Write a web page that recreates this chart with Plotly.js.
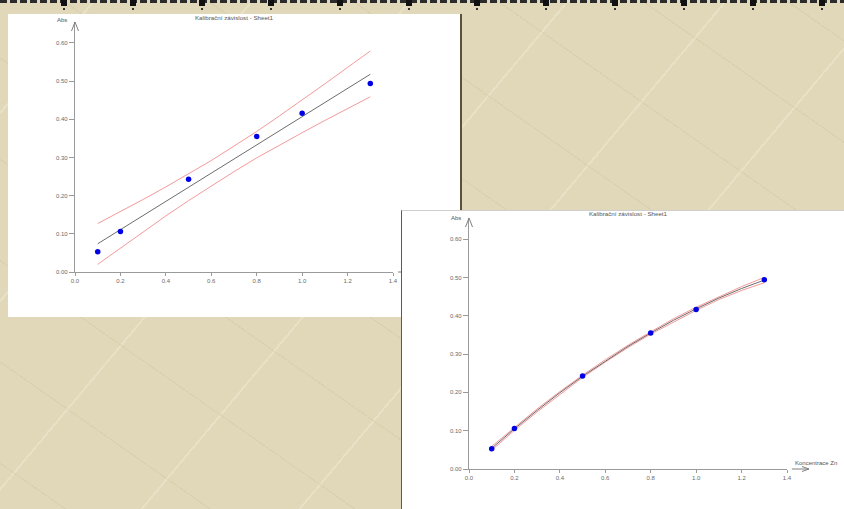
<!DOCTYPE html>
<html>
<head>
<meta charset="utf-8">
<script src="https://cdn.plot.ly/plotly-3.0.1.min.js"></script>
<style>
html,body{margin:0;padding:0;width:844px;height:509px;overflow:hidden;}
body{background-color:#e0d8b8;background-image:
  repeating-linear-gradient(35deg,rgba(255,255,255,0) 0 37px,rgba(190,180,140,0.25) 37px 38px,rgba(255,255,255,0) 38px 83px),
  repeating-linear-gradient(-50deg,rgba(255,255,255,0) 0 53px,rgba(245,240,220,0.35) 53px 55px,rgba(255,255,255,0) 55px 121px);}
#border{position:absolute;left:0;top:0;width:844px;height:3px;background:repeating-linear-gradient(90deg,#2b2b2b 0 7px,rgba(0,0,0,0) 7px 10px);}
.pin{position:absolute;top:0;width:6px;height:6px;background:#111;}
.pin:after{content:'';position:absolute;left:2px;top:8px;width:2px;height:2px;background:#333;}
#c1{position:absolute;left:8px;top:14px;width:452px;height:302px;background:#fff;border-right:2px solid #5a5238;border-bottom:1px solid #b9b6a8;}
#c2{position:absolute;left:401px;top:210px;width:452px;height:303px;background:#fff;border-left:1px solid #5a5a5a;border-top:1px solid #cfcfcf;}
</style>
</head>
<body>
<div id="border"></div>
<div id="c1"></div>
<div id="c2"></div>
<script>
// ---- data ----
const conc = [0.1, 0.2, 0.5, 0.8, 1.0, 1.3];
const absorbance = [0.053, 0.106, 0.243, 0.355, 0.416, 0.494];

const bandX = [0.1, 0.2, 0.3, 0.4, 0.5, 0.6, 0.7, 0.8, 0.9, 1.0, 1.1, 1.2, 1.3];
// linear calibration (top-left chart)
const linFit   = [0.074, 0.111, 0.148, 0.185, 0.222, 0.259, 0.296, 0.334, 0.371, 0.408, 0.445, 0.482, 0.518];
const linUpper = [0.127, 0.158, 0.190, 0.223, 0.257, 0.292, 0.330, 0.368, 0.409, 0.450, 0.493, 0.536, 0.579];
const linLower = [0.020, 0.063, 0.105, 0.147, 0.187, 0.226, 0.263, 0.299, 0.333, 0.365, 0.397, 0.429, 0.459];
// quadratic calibration (bottom-right chart)
const quadFit   = [0.054, 0.105, 0.153, 0.199, 0.242, 0.282, 0.320, 0.355, 0.388, 0.418, 0.446, 0.471, 0.493];
const quadUpper = [0.059, 0.109, 0.157, 0.202, 0.245, 0.285, 0.323, 0.358, 0.392, 0.422, 0.450, 0.476, 0.500];
const quadLower = [0.049, 0.101, 0.149, 0.195, 0.239, 0.279, 0.317, 0.352, 0.384, 0.414, 0.442, 0.466, 0.486];

const xTickVals = [0, 0.2, 0.4, 0.6, 0.8, 1.0, 1.2, 1.4];
const yTickVals = [0, 0.1, 0.2, 0.3, 0.4, 0.5, 0.6];
const chartTitle = 'Kalibrační závislost - Sheet1';
const yLabel = 'Abs';
const xLabel = 'Koncentrace Zn';

// ---- decoration: top dashed border with pins ----
for (let i = 0; i < 12; i++) {
  const p = document.createElement('div');
  p.className = 'pin';
  p.style.left = (61 + i * 68.9) + 'px';
  document.body.appendChild(p);
}

const FONT = 'Liberation Sans, Arial, sans-serif';
const AX = '#9a9a9a';

function traces(fit, up, lo) {
  return [
    {x: bandX, y: up, mode: 'lines', line: {color: '#f39a9a', width: 1}, hoverinfo: 'skip'},
    {x: bandX, y: lo, mode: 'lines', line: {color: '#f39a9a', width: 1}, hoverinfo: 'skip'},
    {x: bandX, y: fit, mode: 'lines', line: {color: '#6c6c6c', width: 1}, hoverinfo: 'skip'},
    {x: conc, y: absorbance, mode: 'markers', marker: {color: '#0000e6', size: 5.5}, hoverinfo: 'skip'}
  ];
}

function layout(t, titleOffset, absShift) {
  return {
    width: 452, height: 303,
    margin: {l: 67, r: 67, t: t, b: 45, pad: 0},
    paper_bgcolor: '#ffffff', plot_bgcolor: '#ffffff',
    showlegend: false,
    font: {family: FONT, size: 6, color: '#6a6a6a'},
    title: {text: chartTitle, font: {family: FONT, size: 6.2, color: '#555'},
            x: 0.5, xref: 'paper', xanchor: 'center', y: 1 - titleOffset / 303, yref: 'container', yanchor: 'middle'},
    xaxis: {range: [0, 1.4], tickvals: xTickVals, tickformat: '.1f', showgrid: false, zeroline: false,
            showline: true, linecolor: AX, linewidth: 1.2, ticks: 'outside', ticklen: 3, tickcolor: AX,
            tickfont: {family: FONT, size: 6, color: '#6a6a6a'}, fixedrange: true},
    yaxis: {range: [0, 0.655], tickvals: yTickVals, tickformat: '.2f', showgrid: false, zeroline: false,
            showline: true, linecolor: AX, linewidth: 1.2, ticks: 'outside', ticklen: 5, tickcolor: AX,
            tickfont: {family: FONT, size: 6, color: '#6a6a6a'}, fixedrange: true},
    shapes: [
      {type: 'path', xref: 'paper', yref: 'paper', xsizemode: 'pixel', ysizemode: 'pixel', xanchor: 0, yanchor: 1,
       path: 'M-3.5,-9L0,0L3.5,-9', line: {color: '#808080', width: 1}},
      {type: 'path', xref: 'paper', yref: 'paper', xsizemode: 'pixel', ysizemode: 'pixel', xanchor: 1, yanchor: 0,
       path: 'M5,0L22,0M15,2.5L22,0L15,-2.5', line: {color: '#808080', width: 1}}
    ],
    annotations: [
      {text: yLabel, x: 0, y: 1, xref: 'paper', yref: 'paper', xanchor: 'right', yanchor: 'middle',
       xshift: -6, yshift: absShift, showarrow: false, font: {family: FONT, size: 6, color: '#555'}},
      {text: xLabel, x: 1, y: 0, xref: 'paper', yref: 'paper', xanchor: 'left', yanchor: 'middle',
       xshift: 6, yshift: 6.5, showarrow: false, font: {family: FONT, size: 6, color: '#555'}}
    ]
  };
}

const cfg = {staticPlot: true, displayModeBar: false};
Plotly.newPlot('c1', traces(linFit, linUpper, linLower), layout(8, 3.5, 2), cfg);
Plotly.newPlot('c2', traces(quadFit, quadUpper, quadLower), layout(7, 3, 0), cfg);
</script>
</body>
</html>
